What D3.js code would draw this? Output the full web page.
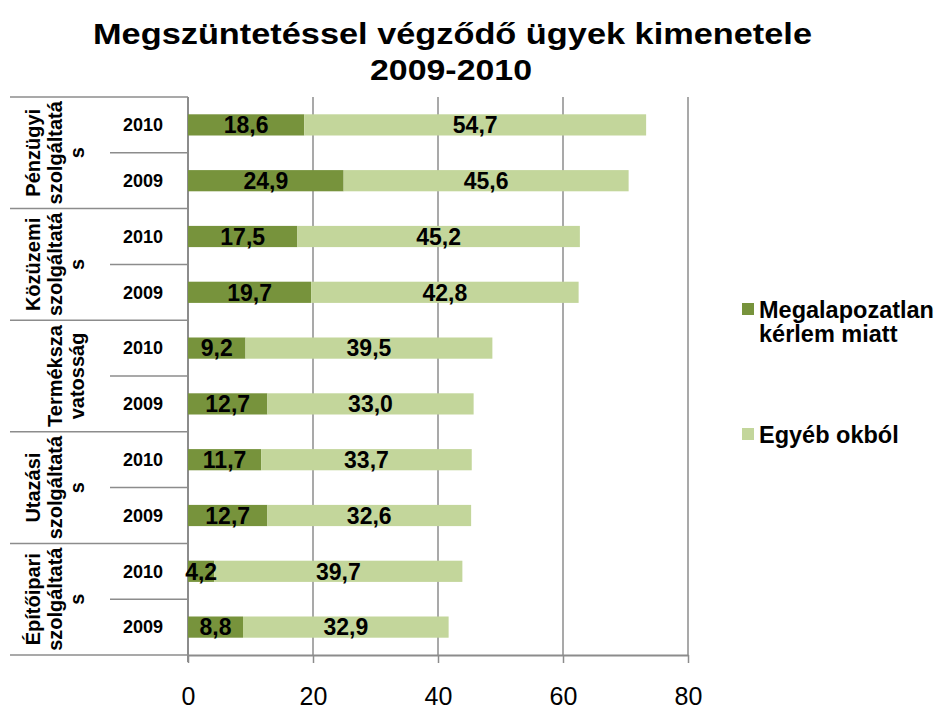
<!DOCTYPE html>
<html>
<head>
<meta charset="utf-8">
<script src="https://cdn.jsdelivr.net/npm/d3@7"></script>
<style>
  body { margin: 0; background: #fff; }
  svg text { font-family: Arial, "Liberation Sans", sans-serif; }
</style>
</head>
<body>
<svg id="chart" width="937" height="711"></svg>
<script>
// --- Data
const groupLabels = [
    ["Pénzügyi", "szolgáltatá", "s"],
    ["Közüzemi", "szolgáltatá", "s"],
    ["Terméksza", "vatosság"],
    ["Utazási", "szolgáltatá", "s"],
    ["Építőipari", "szolgáltatá", "s"]
]
const years = ["2010", "2009"]
const megalapozatlan = [18.6, 24.9, 17.5, 19.7, 9.2, 12.7, 11.7, 12.7, 4.2, 8.8]
const egyeb = [54.7, 45.6, 45.2, 42.8, 39.5, 33.0, 33.7, 32.6, 39.7, 32.9]
const seriesNames = [["Megalapozatlan", "kérlem miatt"], ["Egyéb okból"]]
const xTicks = [0, 20, 40, 60, 80]

const colors = ["#77933C", "#C3D69B"]
const gridColor = "#8c8c8c"

const svg = d3.select("#chart")

const rows = []
groupLabels.forEach((g, gi) => {
    years.forEach((y, yi) => {
        const i = gi * years.length + yi
        rows.push({ key: i, group: gi, year: y, a: megalapozatlan[i], b: egyeb[i] })
    })
})

const x = d3.scaleLinear().domain([0, 80]).range([188, 688])
const y = d3.scaleBand()
    .domain(rows.map(r => r.key))
    .range([97, 655])
    .paddingInner(0.62)
    .paddingOuter(0.31)

const fmt = v => d3.format(".1f")(v).replace(".", ",")

// --- Title (the original is drawn a bit wider than Arial, hence textLength)
const title = svg.append("g")
    .style("font-weight", "bold")
    .style("font-size", "30px")
title.append("text")
    .attr("x", 93).attr("y", 44)
    .attr("textLength", 719).attr("lengthAdjust", "spacingAndGlyphs")
    .text("Megszüntetéssel végződő ügyek kimenetele")
title.append("text")
    .attr("x", 370).attr("y", 80)
    .attr("textLength", 162).attr("lengthAdjust", "spacingAndGlyphs")
    .text("2009-2010")

// --- Gridlines
svg.append("g")
    .selectAll("line")
    .data(xTicks.slice(1))
    .join("line")
    .attr("x1", d => x(d)).attr("x2", d => x(d))
    .attr("y1", 97).attr("y2", 655)
    .attr("stroke", gridColor)
    .attr("stroke-width", 1.5)

// --- Bottom axis
const xAxis = svg.append("g")
    .attr("transform", "translate(0,655)")
    .call(d3.axisBottom(x).tickValues(xTicks).tickSize(8).tickSizeOuter(0).tickPadding(0))
xAxis.select(".domain").attr("stroke", gridColor).attr("stroke-width", 2)
xAxis.selectAll(".tick line").attr("stroke", gridColor).attr("stroke-width", 1.5)
xAxis.selectAll(".tick text")
    .attr("fill", "#000")
    .attr("y", 50)
    .attr("dy", null)
    .style("font-family", "'Liberation Sans', Arial, sans-serif")
    .style("font-size", "25px")

// --- Left axis line
svg.append("line")
    .attr("x1", 188).attr("x2", 188)
    .attr("y1", 97).attr("y2", 662)
    .attr("stroke", gridColor)
    .attr("stroke-width", 2)

// --- Category separators
const step = y.step()
const groupEdges = d3.range(groupLabels.length + 1).map(i => 97 + i * step * years.length)
svg.append("g")
    .selectAll("line")
    .data(groupEdges)
    .join("line")
    .attr("x1", 10).attr("x2", 188)
    .attr("y1", d => d).attr("y2", d => d)
    .attr("stroke", gridColor)
    .attr("stroke-width", 1.5)

svg.append("g")
    .selectAll("line")
    .data(groupLabels.map((g, i) => 97 + (i * years.length + 1) * step))
    .join("line")
    .attr("x1", 110).attr("x2", 188)
    .attr("y1", d => d).attr("y2", d => d)
    .attr("stroke", gridColor)
    .attr("stroke-width", 1.5)

// --- Year labels
svg.append("g")
    .selectAll("text")
    .data(rows)
    .join("text")
    .attr("x", 143)
    .attr("y", d => y(d.key) + y.bandwidth() / 2)
    .attr("dy", "0.35em")
    .attr("text-anchor", "middle")
    .style("font-weight", "bold")
    .style("font-size", "18px")
    .text(d => d.year)

// --- Group labels (rotated, last line kept at the same spot)
groupLabels.forEach((lines, gi) => {
    const cy = groupEdges[gi] + step
    const lastBase = 84
    const t = svg.append("text")
        .attr("transform", `translate(0,${cy}) rotate(-90)`)
        .attr("text-anchor", "middle")
        .style("font-weight", "bold")
        .style("font-size", "20px")
    lines.forEach((ln, li) => {
        t.append("tspan")
            .attr("x", 0)
            .attr("y", lastBase - (lines.length - 1 - li) * 22)
            .text(ln)
    })
})

// --- Bars
const stack = rows.map(r => [
    { key: r.key, s: 0, x0: 0, x1: r.a, v: r.a },
    { key: r.key, s: 1, x0: r.a, x1: r.a + r.b, v: r.b }
]).flat()

svg.append("g")
    .selectAll("rect")
    .data(stack)
    .join("rect")
    .attr("x", d => x(d.x0))
    .attr("y", d => y(d.key))
    .attr("width", d => x(d.x1) - x(d.x0))
    .attr("height", y.bandwidth())
    .attr("fill", d => colors[d.s])

svg.append("g")
    .selectAll("text")
    .data(stack)
    .join("text")
    .attr("x", d => (x(d.x0) + x(d.x1)) / 2)
    .attr("y", d => y(d.key) + y.bandwidth() / 2)
    .attr("dy", "0.36em")
    .attr("text-anchor", "middle")
    .style("font-weight", "bold")
    .style("font-size", "23px")
    .text(d => fmt(d.v))

// --- Legend
const legendY = [303, 428]
seriesNames.forEach((lines, i) => {
    svg.append("rect")
        .attr("x", 742).attr("y", legendY[i])
        .attr("width", 12).attr("height", 12)
        .attr("fill", colors[i])
    const t = svg.append("text")
        .style("font-weight", "bold")
        .style("font-size", "23.5px")
    lines.forEach((ln, li) => {
        t.append("tspan")
            .attr("x", 759)
            .attr("y", legendY[i] + 15 + li * 24)
            .text(ln)
    })
})
</script>
</body>
</html>
